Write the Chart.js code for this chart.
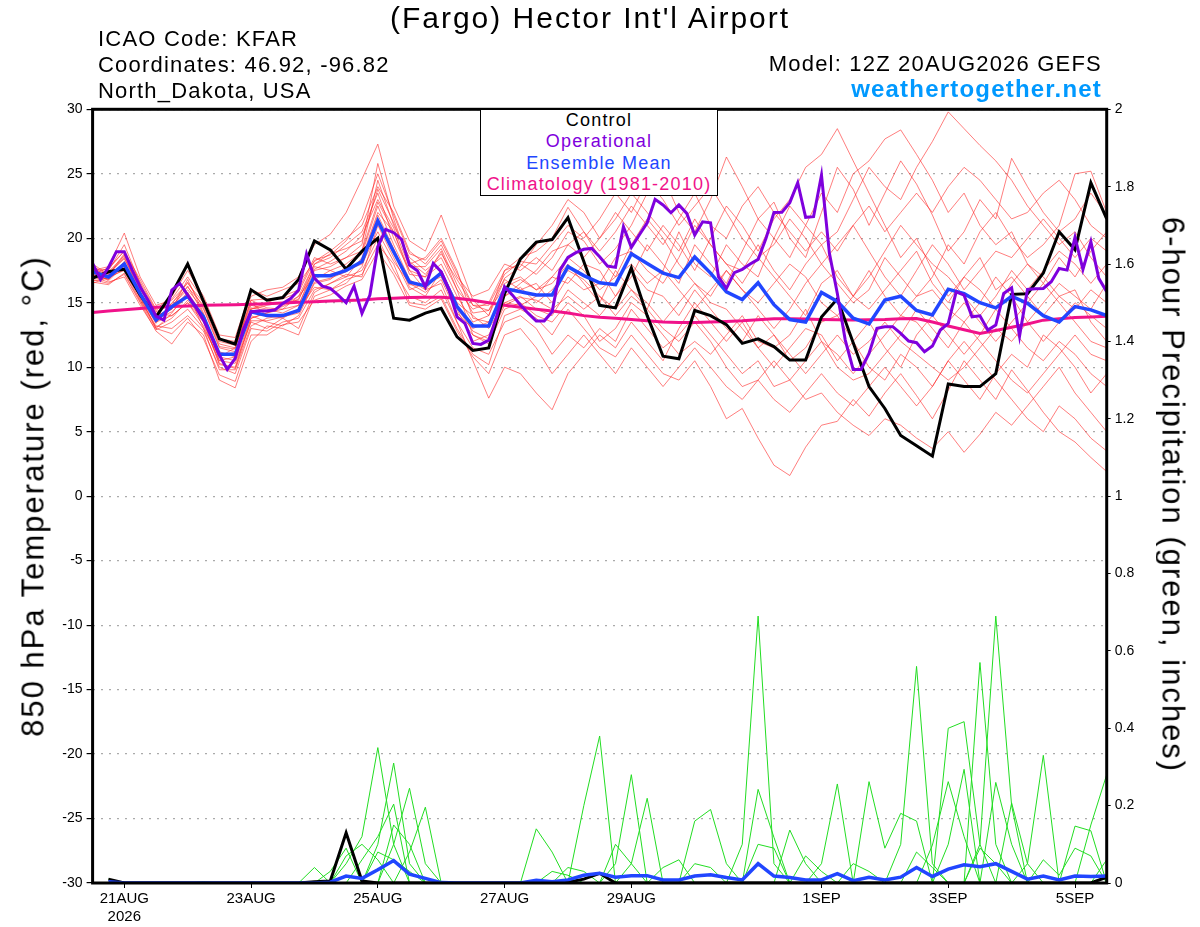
<!DOCTYPE html>
<html>
<head>
<meta charset="utf-8">
<script src="https://cdn.jsdelivr.net/npm/chart.js@4.4.1/dist/chart.umd.min.js"></script>
<style>
  body { margin: 0; background: #fff; overflow: hidden; font-family: "Liberation Sans", Arial, sans-serif; }
  #wrap { position: relative; width: 1200px; height: 927px; }
  #c { position: absolute; left: 0; top: 0; }
  .t { position: absolute; white-space: nowrap; color: #000; line-height: 1; }
  .h { font-size: 22px; letter-spacing: 1.2px; }
  .ax { font-size: 31px; letter-spacing: 2px; }
  #legend { position: absolute; left: 480px; top: 109px; width: 236px; height: 85px; background: #fff;
            border: 1.5px solid #000; text-align: center; font-size: 18px; letter-spacing: 1.2px; line-height: 21.3px; }
</style>
</head>
<body>
<div id="wrap">
  <canvas id="c" width="1200" height="927"></canvas>
  <div class="t" style="left:0;width:1180px;text-align:center;top:3px;font-size:30px;letter-spacing:2px">(Fargo) Hector Int'l Airport</div>
  <div class="t h" style="left:98px;top:28px">ICAO Code: KFAR</div>
  <div class="t h" style="left:98px;top:54px">Coordinates: 46.92, -96.82</div>
  <div class="t h" style="left:98px;top:80px">North_Dakota, USA</div>
  <div class="t h" style="right:98px;top:53px">Model: 12Z 20AUG2026 GEFS</div>
  <div class="t" style="right:98px;top:77px;font-size:24px;letter-spacing:1.2px;font-weight:bold;color:#0099ff">weathertogether.net</div>
  <div class="t ax" style="left:33px;top:496px;transform:translate(-50%,-50%) rotate(-90deg)">850 hPa Temperature (red, °C)</div>
  <div class="t ax" style="left:1173px;top:495px;transform:translate(-50%,-50%) rotate(90deg)">6-hour Precipitation (green, inches)</div>
  <div id="legend">
    <div style="color:#000">Control</div>
    <div style="color:#7f00dd">Operational</div>
    <div style="color:#2146ff">Ensemble Mean</div>
    <div style="color:#f0128a">Climatology (1981-2010)</div>
  </div>
</div>
<script>
// x positions are 6-hour steps from 12Z 20AUG2026 (0..64)
const tickPos = [2, 10, 18, 26, 34, 46, 54, 62];
const tickLabels = [['21AUG', '2026'], '23AUG', '25AUG', '27AUG', '29AUG', '1SEP', '3SEP', '5SEP'];

// 850 hPa temperature, deg C
const controlT = [16.9, 17.4, 17.6, 15.6, 13.9, 15.7, 18.0, 15.1, 12.2, 11.8,
  16.0, 15.2, 15.4, 16.8, 19.8, 19.1, 17.6, 19.0, 20.0, 13.8,
  13.65, 14.2, 14.56, 12.35, 11.3, 11.5, 15.7, 18.4, 19.7, 19.9,
  21.6, 18.2, 14.8, 14.6, 17.7, 14.0, 10.85, 10.65, 14.4, 14.0,
  13.3, 11.85, 12.2, 11.6, 10.55, 10.55, 13.9, 15.3, 11.9, 8.5,
  6.8, 4.7, 3.9, 3.1, 8.7, 8.5, 8.5, 9.5, 15.65, 15.7,
  17.3, 20.5, 19.1, 24.3, 21.5];

const meanT = [17.4, 17.0, 18.0, 15.7, 13.65, 14.7, 15.5, 13.9, 11.0, 11.0,
  14.3, 14.0, 14.0, 14.4, 17.1, 17.1, 17.5, 18.2, 21.35, 18.95,
  16.6, 16.3, 17.3, 14.7, 13.2, 13.2, 16.1, 15.85, 15.6, 15.6,
  17.8, 17.1, 16.55, 16.4, 18.8, 18.05, 17.3, 16.95, 18.55, 17.3,
  15.85, 15.25, 16.55, 14.85, 13.7, 13.5, 15.8, 15.1, 13.8, 13.35,
  15.2, 15.5, 14.4, 14.05, 16.05, 15.7, 15.0, 14.6, 15.5, 14.95,
  14.0, 13.5, 14.7, 14.45, 14.0];

// operational run is 3-hourly (half steps)
const operT = [18.05, 16.8, 17.74, 18.96, 18.96, 17.53, 16.24, 15.2, 13.96, 13.65,
  15.98, 16.5, 15.6, 14.69, 13.65, 12.36, 10.94, 9.83, 10.68, 12.88,
  14.3, 14.35, 14.35, 14.43, 14.95, 15.33, 15.98, 18.78, 16.9, 16.29,
  16.11, 15.59, 15.0, 16.29, 14.17, 15.59, 19.34, 20.69, 20.43, 19.91,
  17.92, 17.48, 16.24, 18.05, 17.4, 15.98, 13.91, 13.4, 11.84, 11.77,
  12.1, 13.91, 16.24, 15.59, 14.82, 14.17, 13.58, 13.58, 14.3, 17.53,
  18.52, 18.88, 19.14, 19.21, 18.57, 17.84, 17.74, 20.9, 19.29, 20.25,
  21.2, 23.02, 22.58, 21.98, 22.58, 21.93, 20.25, 21.28, 21.2, 17.0,
  16.11, 17.33, 17.59, 18.0, 18.36, 19.99, 22.0, 22.01, 22.76, 24.31,
  21.62, 21.67, 24.9, 18.83, 15.72, 12.1, 9.83, 9.83, 11.07, 13.01,
  13.14, 13.14, 12.62, 12.03, 11.9, 11.2, 11.64, 12.88, 13.4, 15.85,
  15.59, 13.91, 13.99, 12.88, 13.27, 15.72, 16.16, 12.41, 16.03, 16.08,
  16.11, 16.63, 17.66, 17.53, 20.07, 17.59, 19.73, 16.89, 15.85];

const climoT = [14.25, 14.35, 14.45, 14.55, 14.65, 14.7, 14.75, 14.8, 14.82, 14.85,
  14.88, 14.92, 14.97, 15.03, 15.08, 15.13, 15.18, 15.22, 15.3, 15.35,
  15.4, 15.43, 15.42, 15.35, 15.2, 15.0, 14.8, 14.65, 14.5, 14.35,
  14.2, 14.0, 13.88, 13.8, 13.7, 13.6, 13.5, 13.47, 13.47, 13.5,
  13.55, 13.6, 13.68, 13.75, 13.75, 13.73, 13.7, 13.68, 13.67, 13.68,
  13.7, 13.75, 13.78, 13.5, 13.2, 12.9, 12.62, 12.85, 13.1, 13.35,
  13.65, 13.75, 13.85, 13.9, 13.96];

// ensemble members, temperature
const mem01 = [17.5, 17.8, 20.4, 17.0, 14.8, 15.2, 16.5, 15.0, 12.2, 12.0,
  15.5, 16.0, 16.2, 17.0, 19.5, 20.3, 22.0, 24.6, 27.3, 22.5,
  19.8, 19.0, 21.8, 18.5, 15.2, 14.0, 17.5, 18.0, 17.2, 18.5,
  20.5, 19.8, 18.0, 19.2, 21.0, 23.5, 24.8, 22.0, 20.5, 23.0,
  26.3, 24.0, 21.5, 22.8, 20.0, 18.5, 22.0, 25.5, 23.8, 21.0,
  23.5, 26.0, 24.2, 21.8, 19.0, 20.5, 23.0, 21.5, 26.2, 24.0,
  22.0, 20.5, 21.5, 23.5, 21.8];
const mem02 = [16.8, 16.5, 17.2, 15.0, 12.8, 11.8, 13.5, 12.5, 9.0, 8.4,
  12.0, 13.2, 13.0, 12.5, 15.5, 16.0, 16.8, 17.2, 19.5, 18.0,
  15.0, 14.8, 15.5, 13.0, 11.0, 10.2, 14.0, 14.5, 13.8, 12.5,
  14.5, 13.0, 11.5, 10.8, 12.5, 11.0, 9.5, 9.0, 10.5, 8.5,
  6.0, 6.8, 4.5, 2.4, 1.6, 3.8, 5.5, 5.8, 7.5, 6.2,
  8.0, 9.5, 7.8, 6.0, 8.2, 10.5, 9.0, 7.5, 9.8, 8.2,
  6.5, 5.0, 4.2, 3.0, 1.9];
const mem03 = [18.0, 17.2, 18.8, 16.2, 14.0, 14.5, 16.8, 14.2, 10.5, 10.8,
  14.5, 14.8, 15.0, 15.2, 18.0, 18.5, 19.5, 20.5, 23.5, 20.0,
  17.5, 17.0, 19.0, 16.0, 12.5, 12.0, 16.5, 17.0, 16.0, 16.5,
  18.0, 16.5, 15.0, 17.5, 16.0, 14.5, 17.5, 20.5, 18.0, 17.0,
  19.5, 18.0, 17.0, 20.0, 22.5, 21.0, 19.5, 20.5, 23.0, 25.5,
  24.0, 23.0, 25.5, 27.5, 29.8, 28.5, 27.2, 26.0, 24.5, 22.5,
  21.0, 19.5, 20.5, 18.5, 17.0];
const mem04 = [17.0, 17.5, 19.5, 16.5, 13.5, 14.0, 15.0, 13.5, 10.2, 10.0,
  13.8, 14.2, 14.5, 14.8, 17.5, 17.8, 18.5, 19.5, 25.8, 21.5,
  18.0, 18.5, 20.0, 17.5, 13.8, 13.5, 15.5, 16.5, 17.5, 19.0,
  19.5, 18.5, 20.0, 22.0, 20.5, 19.0, 21.0, 19.5, 17.5, 20.0,
  22.5, 21.0, 19.0, 21.5, 23.0, 25.5, 26.5, 28.5, 26.0, 23.5,
  21.0, 18.5, 20.0, 17.5, 15.5, 17.0, 16.0, 14.5, 16.5, 18.0,
  17.0, 15.5, 16.0, 13.5, 12.0];
const mem05 = [17.2, 16.8, 18.2, 15.5, 13.0, 14.2, 15.8, 13.0, 10.8, 11.5,
  15.0, 14.0, 13.8, 14.5, 16.8, 17.5, 17.0, 18.5, 22.0, 20.5,
  17.5, 16.0, 17.5, 15.0, 14.0, 13.0, 15.0, 14.8, 15.5, 17.0,
  16.5, 18.0, 17.5, 15.5, 17.0, 19.5, 18.0, 16.5, 19.5, 18.0,
  16.5, 19.0, 21.5, 20.0, 18.5, 21.0, 23.5, 22.0, 25.0, 26.0,
  27.7, 28.4, 26.5, 24.5, 22.0, 23.5, 21.0, 19.5, 20.5, 18.0,
  16.5, 18.5, 17.0, 19.0, 20.5];
const mem06 = [16.5, 17.0, 17.5, 15.2, 13.2, 13.0, 14.0, 12.8, 10.0, 9.5,
  13.0, 12.8, 13.5, 13.8, 16.0, 16.5, 17.0, 17.5, 20.0, 17.5,
  15.5, 15.0, 16.0, 13.5, 11.5, 11.0, 13.5, 14.0, 13.0, 11.0,
  12.5, 11.5, 13.0, 12.0, 14.5, 13.0, 11.5, 12.5, 14.0, 12.5,
  11.0, 9.5, 10.5, 8.5, 9.0, 7.5, 8.0, 6.5, 5.5, 4.7,
  6.0, 5.5, 4.5, 3.7, 5.0, 3.4, 4.8, 6.5, 5.5, 7.0,
  8.5, 10.0, 8.0, 6.5, 5.0];
const mem07 = [17.8, 17.2, 18.5, 15.8, 13.8, 14.5, 15.8, 14.0, 11.2, 10.8,
  14.0, 13.5, 13.2, 14.0, 16.5, 16.8, 17.8, 18.8, 22.5, 19.5,
  16.8, 16.0, 16.5, 13.5, 10.5, 7.6, 10.0, 9.5, 8.0, 6.7,
  9.5, 11.0, 12.5, 11.5, 13.5, 12.0, 10.5, 13.0, 15.0, 13.5,
  12.0, 13.5, 11.5, 10.0, 11.5, 13.0, 12.5, 10.5, 12.0, 13.5,
  11.5, 10.0, 12.5, 14.0, 12.5, 11.0, 12.5, 14.5, 13.0, 11.5,
  10.5, 12.0, 11.0, 9.5, 8.5];
const mem08 = [17.3, 16.8, 18.0, 15.5, 13.5, 14.8, 16.0, 14.5, 11.5, 11.2,
  14.5, 15.0, 15.5, 16.0, 18.5, 18.0, 18.5, 19.0, 24.5, 21.0,
  18.5, 17.5, 18.5, 16.0, 14.5, 15.0, 17.5, 18.5, 19.0, 20.0,
  22.4, 20.5, 18.5, 17.0, 19.5, 21.5, 20.0, 18.0, 16.5, 15.5,
  17.5, 16.0, 14.5, 13.0, 14.5, 16.5, 18.0, 16.5, 15.0, 16.0,
  18.5, 17.0, 15.5, 17.0, 19.5, 18.0, 20.5, 22.0, 20.0, 18.5,
  19.5, 21.0, 25.0, 25.2, 22.0];
const mem09 = [16.9, 17.4, 18.6, 16.0, 14.2, 14.0, 15.0, 13.2, 10.5, 10.3,
  13.5, 13.0, 13.8, 13.0, 15.8, 16.5, 17.2, 17.0, 21.0, 18.5,
  16.0, 16.5, 17.0, 14.5, 12.0, 12.5, 15.0, 15.5, 14.5, 14.0,
  16.0, 15.0, 14.0, 15.5, 17.5, 16.0, 15.5, 14.0, 16.0, 14.5,
  13.0, 12.0, 14.0, 12.5, 10.5, 11.5, 13.5, 14.0, 12.0, 10.0,
  9.0, 11.0, 10.0, 8.5, 10.5, 9.0, 7.5, 9.5, 11.0, 10.0,
  12.5, 11.5, 10.0, 8.0, 9.5];
const mem10 = [17.6, 17.0, 17.8, 15.4, 13.4, 15.0, 16.2, 14.8, 11.8, 11.5,
  14.8, 14.5, 14.2, 14.8, 17.8, 17.5, 18.0, 19.0, 22.8, 20.5,
  17.2, 17.0, 18.0, 15.5, 13.5, 14.0, 16.8, 16.0, 16.5, 15.0,
  17.0, 16.0, 16.5, 18.5, 19.0, 17.5, 16.5, 18.5, 21.0, 19.5,
  18.0, 16.5, 18.5, 17.0, 15.5, 14.0, 16.5, 17.5, 15.5, 14.5,
  16.0, 17.5, 19.0, 16.5, 15.0, 17.0, 18.5, 16.0, 17.0, 15.5,
  14.0, 15.5, 14.5, 16.0, 15.0];
const mem11 = [17.0, 16.6, 17.0, 14.8, 12.9, 13.5, 14.5, 13.0, 9.8, 9.8,
  13.2, 13.8, 14.0, 14.5, 16.2, 16.0, 16.5, 17.8, 21.5, 19.0,
  16.2, 15.5, 17.5, 14.0, 12.5, 11.8, 14.5, 15.0, 14.0, 13.5,
  15.0, 14.0, 12.0, 13.0, 15.0, 14.0, 12.5, 11.0, 12.0, 11.0,
  12.5, 14.0, 12.0, 11.5, 12.5, 14.5, 12.0, 10.0, 9.0, 9.5,
  11.0, 12.5, 14.5, 13.0, 11.5, 13.5, 12.0, 10.5, 9.0, 8.0,
  9.5, 11.0, 12.5, 11.0, 10.5];
const mem12 = [17.5, 17.6, 19.0, 16.8, 14.5, 15.5, 17.5, 15.5, 12.5, 12.3,
  16.0, 15.5, 16.0, 16.5, 18.2, 19.0, 20.0, 21.0, 24.0, 22.0,
  19.0, 18.0, 19.5, 17.0, 15.5, 16.0, 18.0, 17.5, 18.5, 17.5,
  19.5, 20.5, 19.0, 20.5, 22.5, 21.0, 19.5, 21.5, 23.5, 21.0,
  20.0, 22.5, 24.0, 22.0, 20.5, 19.0, 20.5, 19.0, 21.0, 22.5,
  20.5, 22.0, 23.5, 22.0, 24.0, 25.5, 24.5, 23.0, 21.5, 22.0,
  23.5, 24.5, 23.0, 21.0, 20.0];
const mem13 = [16.7, 16.9, 17.6, 15.6, 13.7, 14.3, 15.5, 13.8, 10.8, 10.5,
  13.8, 14.2, 14.8, 15.5, 17.0, 17.2, 17.5, 18.0, 20.5, 18.2,
  16.5, 15.8, 16.8, 14.2, 13.0, 13.5, 15.5, 16.2, 15.0, 16.0,
  17.5, 16.8, 15.5, 14.0, 15.5, 14.5, 13.0, 12.0, 13.5, 12.0,
  10.0, 8.5, 9.0, 7.5, 6.5, 8.0, 9.5, 8.0, 7.0, 8.5,
  10.0, 8.5, 7.0, 8.5, 10.5, 12.0, 10.5, 9.0, 7.5, 6.0,
  5.0, 7.0, 6.0, 4.5, 3.5];
const mem14 = [17.1, 17.3, 18.4, 16.1, 13.9, 14.6, 16.3, 14.1, 11.0, 11.1,
  14.6, 14.4, 14.7, 15.3, 17.6, 18.2, 19.0, 20.2, 23.0, 20.8,
  17.8, 17.8, 19.2, 16.4, 14.2, 14.4, 16.9, 17.8, 19.5, 21.0,
  23.0, 22.0, 20.0, 21.5, 23.5, 22.0, 20.5, 19.0, 21.5, 19.5,
  18.0, 17.5, 19.5, 17.5, 16.0, 18.0, 19.5, 17.0, 15.5, 17.0,
  19.0, 21.0, 19.5, 18.0, 17.0, 15.5, 14.0, 15.5, 17.5, 16.0,
  17.5, 19.0, 18.0, 16.5, 18.0];
const mem15 = [17.4, 16.7, 17.9, 15.3, 13.1, 13.8, 15.2, 13.6, 10.3, 9.9,
  13.6, 13.6, 13.9, 14.2, 16.6, 16.9, 17.4, 18.3, 21.8, 19.2,
  16.4, 16.3, 17.2, 14.6, 12.8, 12.2, 14.8, 15.4, 15.2, 14.5,
  15.5, 14.5, 15.5, 14.5, 16.0, 15.0, 13.5, 15.0, 16.5, 15.0,
  14.5, 13.0, 11.5, 12.5, 11.0, 9.5, 11.0, 12.5, 11.0, 12.0,
  13.5, 12.0, 11.0, 10.0, 9.0, 10.0, 11.5, 13.0, 12.0, 13.5,
  12.0, 13.5, 15.0, 14.0, 13.0];
const mem16 = [17.7, 17.1, 18.7, 16.4, 14.3, 14.9, 16.6, 14.6, 11.6, 11.4,
  15.2, 15.3, 15.3, 15.8, 18.3, 18.7, 19.8, 21.5, 25.0, 21.8,
  18.8, 18.3, 19.8, 17.3, 14.8, 14.8, 17.2, 18.2, 18.0, 19.5,
  21.0, 20.0, 21.5, 23.5, 22.0, 24.5, 23.0, 21.0, 22.5, 24.0,
  22.0, 20.0, 18.5, 19.5, 21.5, 20.0, 18.0, 19.5, 21.0, 19.0,
  17.0, 15.5, 17.5, 19.5, 18.0, 16.0, 17.5, 19.0, 18.5, 20.0,
  21.5, 20.0, 18.5, 20.0, 19.0];
const mem17 = [16.6, 16.4, 17.3, 15.1, 13.0, 12.6, 13.8, 12.2, 9.4, 8.9,
  12.5, 12.5, 13.3, 13.5, 15.2, 15.6, 16.3, 16.8, 19.0, 17.2,
  14.8, 14.5, 15.3, 12.8, 10.8, 9.5, 12.5, 13.0, 11.5, 9.5,
  11.0, 12.5, 11.0, 9.5, 11.5, 10.0, 8.5, 10.0, 11.5, 10.0,
  8.5, 7.5, 9.0, 10.5, 9.0, 10.5, 12.0, 11.0, 9.5, 11.0,
  12.5, 14.0, 13.5, 12.0, 13.5, 15.0, 13.5, 12.0, 13.5, 15.0,
  16.5, 15.0, 13.5, 12.0, 11.5];
const mem18 = [17.2, 17.7, 19.0, 16.6, 14.4, 15.3, 17.0, 15.2, 12.0, 11.7,
  15.2, 14.6, 14.5, 15.5, 18.0, 18.8, 19.2, 19.8, 23.8, 21.2,
  18.2, 17.2, 18.8, 16.8, 14.8, 14.4, 16.2, 16.8, 16.0, 17.0,
  18.5, 17.5, 16.0, 17.0, 18.0, 16.5, 17.5, 16.0, 14.5, 16.0,
  17.5, 16.0, 15.0, 16.5, 18.0, 17.0, 15.0, 14.0, 15.5, 17.5,
  15.5, 14.0, 15.5, 16.0, 14.5, 13.5, 15.0, 17.0, 15.5, 13.5,
  15.0, 16.5, 15.5, 14.5, 16.5];

// 6-hour precipitation, inches (first step has no accumulation)
const controlP = [null, 0.01, 0, 0, 0, 0, 0, 0, 0, 0,
  0, 0, 0, 0, 0.003, 0.005, 0.13, 0.005, 0, 0,
  0, 0, 0, 0, 0, 0, 0, 0, 0, 0,
  0.002, 0.01, 0.025, 0, 0, 0, 0, 0, 0, 0,
  0, 0, 0, 0, 0, 0, 0, 0, 0, 0,
  0, 0, 0, 0, 0, 0, 0, 0, 0, 0,
  0, 0, 0, 0, 0.015];
const meanP = [null, 0.003, 0, 0, 0, 0, 0, 0, 0, 0,
  0, 0, 0, 0, 0, 0.002, 0.018, 0.012, 0.034, 0.058,
  0.023, 0.012, 0.001, 0, 0, 0, 0, 0, 0.007, 0.003,
  0.008, 0.02, 0.025, 0.015, 0.019, 0.019, 0.008, 0.008, 0.018, 0.021,
  0.014, 0.008, 0.05, 0.018, 0.014, 0.008, 0.008, 0.024, 0.006, 0.015,
  0.008, 0.015, 0.04, 0.017, 0.036, 0.047, 0.042, 0.05, 0.03, 0.01,
  0.018, 0.008, 0.018, 0.017, 0.018];
const pm01 = [null, 0, 0, 0, 0, 0, 0, 0, 0, 0,
  0, 0, 0, 0, 0, 0, 0.05, 0.12, 0.35, 0.1,
  0, 0, 0, 0, 0, 0, 0, 0, 0, 0,
  0, 0, 0, 0, 0, 0, 0, 0, 0, 0,
  0, 0.1, 0.69, 0.05, 0, 0, 0, 0, 0, 0,
  0, 0, 0, 0, 0, 0, 0.1, 0.69, 0.2, 0,
  0, 0, 0, 0, 0];
const pm02 = [null, 0, 0, 0, 0, 0, 0, 0, 0, 0,
  0, 0, 0, 0, 0, 0, 0, 0, 0.1, 0.31,
  0.05, 0, 0, 0, 0, 0, 0, 0, 0, 0,
  0, 0.2, 0.38, 0, 0, 0, 0, 0, 0, 0,
  0, 0, 0, 0, 0, 0, 0, 0, 0, 0,
  0, 0.1, 0.56, 0.05, 0, 0, 0, 0, 0, 0.05,
  0.33, 0, 0, 0, 0];
const pm03 = [null, 0, 0, 0, 0, 0, 0, 0, 0, 0,
  0, 0, 0, 0, 0, 0, 0, 0, 0, 0.1,
  0.245, 0.05, 0, 0, 0, 0, 0, 0, 0, 0,
  0, 0, 0, 0.05, 0.28, 0, 0, 0, 0, 0,
  0, 0, 0, 0, 0, 0, 0, 0, 0, 0,
  0, 0, 0, 0, 0.4, 0.417, 0.1, 0, 0, 0,
  0, 0, 0, 0.15, 0.28];
const pm04 = [null, 0, 0, 0, 0, 0, 0, 0, 0, 0,
  0, 0, 0, 0, 0, 0, 0, 0, 0, 0,
  0.08, 0.196, 0, 0, 0, 0, 0, 0, 0.14, 0.08,
  0, 0, 0, 0, 0, 0, 0, 0, 0, 0,
  0, 0, 0.242, 0.118, 0, 0, 0.05, 0.256, 0, 0,
  0, 0, 0, 0, 0, 0, 0.57, 0.1, 0, 0,
  0, 0, 0, 0, 0];
const pm05 = [null, 0, 0, 0, 0, 0, 0, 0, 0, 0,
  0, 0, 0, 0, 0, 0, 0, 0.06, 0.12, 0.204,
  0, 0, 0, 0, 0, 0, 0, 0, 0, 0,
  0, 0, 0, 0, 0.05, 0.219, 0, 0, 0, 0,
  0, 0, 0, 0, 0, 0, 0, 0, 0, 0.262,
  0.09, 0.18, 0.16, 0, 0.1, 0.294, 0, 0, 0, 0,
  0, 0, 0, 0, 0];
const pm06 = [null, 0, 0, 0, 0, 0, 0, 0, 0, 0,
  0, 0, 0, 0, 0.04, 0, 0.07, 0.1, 0.06, 0,
  0, 0, 0, 0, 0, 0, 0, 0, 0, 0,
  0, 0, 0, 0, 0, 0, 0, 0, 0.16, 0.19,
  0.05, 0, 0, 0, 0.137, 0.05, 0, 0, 0, 0,
  0, 0, 0, 0, 0, 0, 0, 0.26, 0.1, 0,
  0, 0, 0.147, 0.135, 0];
const pm07 = [null, 0, 0, 0, 0, 0, 0, 0, 0, 0,
  0, 0, 0, 0, 0, 0.03, 0.09, 0, 0, 0.15,
  0.1, 0, 0, 0, 0, 0, 0, 0, 0, 0,
  0.04, 0.03, 0, 0, 0, 0, 0.04, 0.06, 0, 0,
  0, 0, 0, 0, 0, 0, 0, 0, 0, 0,
  0, 0, 0, 0.098, 0.262, 0.12, 0, 0, 0.207, 0.05,
  0, 0, 0, 0, 0];
const pm08 = [null, 0, 0, 0, 0, 0, 0, 0, 0, 0,
  0, 0, 0, 0, 0, 0, 0, 0, 0.08, 0.06,
  0.03, 0, 0, 0, 0, 0, 0, 0, 0, 0,
  0, 0, 0, 0.1, 0.05, 0, 0, 0, 0, 0,
  0, 0, 0.1, 0.09, 0, 0, 0, 0, 0.05, 0.03,
  0, 0, 0.08, 0.04, 0, 0, 0, 0, 0, 0,
  0.06, 0.02, 0.09, 0.07, 0];
const pm09 = [null, 0.01, 0, 0, 0, 0, 0, 0.003, 0, 0,
  0, 0, 0, 0, 0, 0, 0, 0, 0, 0,
  0, 0, 0, 0, 0, 0, 0, 0, 0, 0.03,
  0.02, 0, 0, 0, 0, 0, 0, 0, 0.05, 0.04,
  0, 0, 0, 0, 0, 0.07, 0.03, 0, 0, 0,
  0, 0, 0, 0, 0, 0, 0.09, 0.05, 0, 0,
  0, 0, 0, 0, 0.06];

const tempMembers = [mem01, mem02, mem03, mem04, mem05, mem06, mem07, mem08, mem09,
  mem10, mem11, mem12, mem13, mem14, mem15, mem16, mem17, mem18];
const precipMembers = [pm01, pm02, pm03, pm04, pm05, pm06, pm07, pm08, pm09];

const xy = (arr, step) => arr.map((v, k) => ({ x: k * step, y: v }));

const datasets = [];
tempMembers.forEach(m => datasets.push({
  data: xy(m, 1), yAxisID: 'y', borderColor: 'rgba(255,40,40,0.6)', borderWidth: 1, order: 10
}));
precipMembers.forEach(m => datasets.push({
  data: xy(m, 1), yAxisID: 'y1', borderColor: '#22dd22', borderWidth: 1, order: 9
}));
datasets.push({ label: 'Climatology (1981-2010)', data: xy(climoT, 1), yAxisID: 'y', borderColor: '#f0128a', borderWidth: 3, order: 4 });
datasets.push({ label: 'Control', data: xy(controlT, 1), yAxisID: 'y', borderColor: '#000', borderWidth: 3, order: 3 });
datasets.push({ data: xy(controlP, 1), yAxisID: 'y1', borderColor: '#000', borderWidth: 3, order: 3 });
datasets.push({ label: 'Ensemble Mean', data: xy(meanT, 1), yAxisID: 'y', borderColor: '#2146ff', borderWidth: 3.5, order: 2 });
datasets.push({ data: xy(meanP, 1), yAxisID: 'y1', borderColor: '#2146ff', borderWidth: 3.5, order: 2 });
datasets.push({ label: 'Operational', data: xy(operT, 0.5), yAxisID: 'y', borderColor: '#7f00dd', borderWidth: 3, order: 1 });

// thick black frame round the plot
const frame = {
  id: 'frame',
  afterDatasetsDraw(chart) {
    const { ctx, chartArea: a } = chart;
    ctx.save();
    ctx.strokeStyle = '#000';
    ctx.lineWidth = 3;
    ctx.strokeRect(a.left, a.top, a.right - a.left, a.bottom - a.top);
    ctx.restore();
  }
};

Chart.defaults.font.family = '"Liberation Sans", Arial, sans-serif';
Chart.defaults.color = '#000';

new Chart(document.getElementById('c'), {
  type: 'line',
  data: { datasets },
  options: {
    responsive: false,
    animation: false,
    elements: { point: { radius: 0 }, line: { tension: 0, fill: false } },
    layout: { padding: { top: 109.3, left: 0, right: 0, bottom: 0 } },
    plugins: { legend: { display: false }, tooltip: { enabled: false } },
    scales: {
      x: {
        type: 'linear', min: 0, max: 64,
        afterBuildTicks: s => { s.ticks = tickPos.map(v => ({ value: v })); },
        afterFit: s => { s.height = 44; },
        ticks: {
          autoSkip: false, maxRotation: 0, padding: 2,
          font: { size: 15 },
          callback: v => tickLabels[tickPos.indexOf(v)]
        },
        grid: { drawOnChartArea: false, drawTicks: true, tickLength: 5, tickColor: '#000' },
        border: { display: false }
      },
      y: {
        position: 'left', min: -30, max: 30,
        afterFit: s => { s.width = 92.6; },
        ticks: { stepSize: 5, padding: 4, font: { size: 14 } },
        grid: { color: '#aaa', lineWidth: 1.2, tickLength: 6, tickColor: '#000' },
        border: { display: false, dash: [2, 6] }
      },
      y1: {
        position: 'right', min: 0, max: 2,
        afterFit: s => { s.width = 93.3; },
        ticks: { stepSize: 0.2, padding: 4, font: { size: 14 }, callback: v => String(+v.toFixed(1)) },
        grid: { drawOnChartArea: false, tickLength: 4, tickColor: '#000' },
        border: { display: false }
      }
    }
  },
  plugins: [frame]
});
</script>
</body>
</html>
